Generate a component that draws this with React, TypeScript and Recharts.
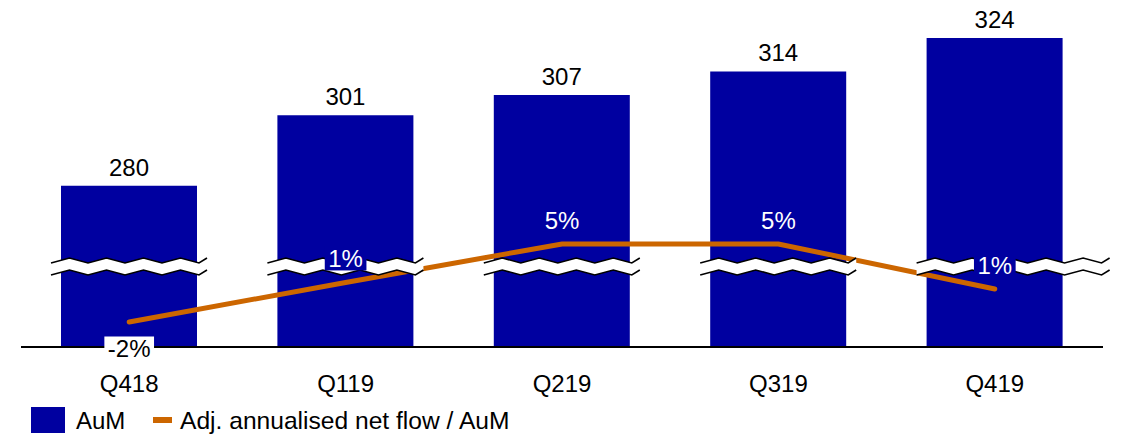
import React from 'react';
import { ComposedChart, Bar, Line, XAxis, YAxis, LabelList } from 'recharts';

const quarters = ['Q418', 'Q119', 'Q219', 'Q319', 'Q419'];
const aum = [280, 301, 307, 314, 324];
const netFlowPct = [-2.2, 1.4, 4.9, 4.9, 0.8];

const BLUE = '#0000A0';
const ORANGE = '#CC6600';
const FONT = '"Liberation Sans", Arial, sans-serif';

const data = quarters.map((q, i) => ({ quarter: q, aum: aum[i], flow: netFlowPct[i] }));

// rough Arial widths, only used to size the label boxes
const textWidth = (s: string, size: number) =>
  s.split('').reduce((w, c) => w + (c === '%' ? 0.889 : c === '-' ? 0.333 : 0.556), 0) * size;

const QuarterTick = (props: any) => (
  <text x={props.x} y={props.y} dy={45} textAnchor="middle" fontSize={24} fontFamily={FONT} fill="#000">
    {props.payload.value}
  </text>
);

// value above bar + the axis break zigzag drawn across the bar
const BarLabel = (props: any) => {
  const { x, y, width, height, value, index } = props;
  const base = y + height;
  const yc = base - 80.5;
  const x0 = x - 10;
  const x1 = x + width + (index === quarters.length - 1 ? 47 : 10);
  const period = 37;
  const amp = 2.5;
  const top: [number, number][] = [];
  const bottom: [number, number][] = [];
  let k = 0;
  for (let px = x0; px < x1; px += period / 2) {
    const off = k % 2 === 0 ? amp : -amp;
    top.push([px, yc - 6 + off]);
    bottom.push([px, yc + 6 + off]);
    k++;
  }
  const offEnd = k % 2 === 0 ? amp : -amp;
  top.push([x1, yc - 6 + offEnd]);
  bottom.push([x1, yc + 6 + offEnd]);
  const pts = (arr: [number, number][]) => arr.map(p => `${p[0]},${p[1]}`).join(' ');
  return (
    <g>
      <polygon points={pts([...top, ...bottom.slice().reverse()])} fill="#fff" stroke="none" />
      <polyline points={pts(top)} fill="none" stroke="#000" strokeWidth={1.6} />
      <polyline points={pts(bottom)} fill="none" stroke="#000" strokeWidth={1.6} />
      <text x={x + width / 2} y={y - 10} textAnchor="middle" fontSize={24} fontFamily={FONT} fill="#000">
        {value}
      </text>
    </g>
  );
};

const FlowLabel = (props: any) => {
  const { x, y, value } = props;
  const txt = `${Math.round(value)}%`;
  const neg = value < 0;
  const cy = neg ? y + 26.5 : y - 24;
  const w = textWidth(txt, 24) + 7;
  return (
    <g>
      <rect x={x - w / 2} y={cy - 12} width={w} height={24} fill={neg ? '#fff' : BLUE} />
      <text x={x} y={cy + 8.6} textAnchor="middle" fontSize={24} fontFamily={FONT} fill={neg ? '#000' : '#fff'}>
        {txt}
      </text>
    </g>
  );
};

export default function App() {
  return (
    <div style={{ position: 'absolute', left: 0, top: 0, width: 1123, height: 436, background: '#fff', fontFamily: FONT }}>
      <ComposedChart width={1123} height={436} data={data} margin={{ top: 11, right: 20, bottom: 59, left: 21 }}>
        <XAxis
          dataKey="quarter"
          height={30}
          tickLine={false}
          tickSize={0}
          tickMargin={0}
          axisLine={{ stroke: '#000', strokeWidth: 2 }}
          tick={<QuarterTick />}
          interval={0}
        />
        <YAxis yAxisId="left" hide domain={[232, 332]} allowDataOverflow type="number" />
        <YAxis yAxisId="right" hide orientation="right" domain={[-4.475, 26.1]} allowDataOverflow type="number" />
        <Bar yAxisId="left" dataKey="aum" fill={BLUE} barSize={136} isAnimationActive={false}>
          <LabelList dataKey="aum" content={<BarLabel />} />
        </Bar>
        <Line
          yAxisId="right"
          dataKey="flow"
          stroke={ORANGE}
          strokeWidth={5}
          strokeLinecap="round"
          dot={false}
          activeDot={false}
          isAnimationActive={false}
        >
          <LabelList dataKey="flow" content={<FlowLabel />} />
        </Line>
      </ComposedChart>
      <div style={{ position: 'absolute', left: 31, top: 407, width: 34, height: 26, background: BLUE }} />
      <div style={{ position: 'absolute', left: 76, top: 406, fontSize: 24, lineHeight: '30px', color: '#000' }}>AuM</div>
      <div style={{ position: 'absolute', left: 153, top: 417, width: 19, height: 6, background: ORANGE }} />
      <div style={{ position: 'absolute', left: 180, top: 406, fontSize: 24.6, lineHeight: '30px', color: '#000', whiteSpace: 'nowrap' }}>
        Adj. annualised net flow / AuM
      </div>
    </div>
  );
}
